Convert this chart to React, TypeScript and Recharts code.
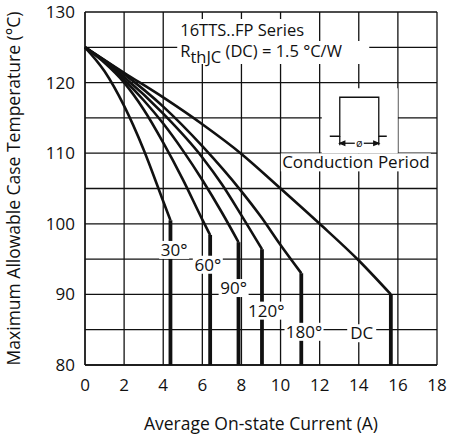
import React from "react";
import {
	LineChart,
	Line,
	XAxis,
	YAxis,
	CartesianGrid,
	ReferenceDot,
} from "recharts";

// axis ticks (grid every 5 °C, labels every 10 °C)
const xTicks = [0, 2, 4, 6, 8, 10, 12, 14, 16, 18];
const yTicks = [80, 85, 90, 95, 100, 105, 110, 115, 120, 125, 130];

// curves: current (A) vs case temperature (°C)
const currentDC = [0, 2, 4, 6, 8, 10, 12, 14, 15.64];
const tempDC = [125, 121.4, 117.9, 114.1, 109.9, 105, 100, 94.8, 90];

const current180 = [0, 2, 4, 6, 8, 9, 10, 11.06];
const temp180 = [125, 121.2, 116.6, 111.0, 104.6, 101.0, 97.0, 93.0];

const current120 = [0, 2, 4, 6, 7, 8, 9.05];
const temp120 = [125, 120.8, 115.6, 109.4, 105.6, 101.2, 96.4];

const current90 = [0, 1, 2, 3, 4, 5, 6, 7, 7.85];
const temp90 = [125, 123.0, 120.4, 117.5, 114.2, 110.4, 106.2, 101.6, 97.4];

const current60 = [0, 1, 2, 3, 4, 5, 6, 6.4];
const temp60 = [125, 122.8, 120.0, 116.2, 111.5, 106.3, 100.6, 98.4];

const current30 = [0, 1, 2, 3, 4, 4.37];
const temp30 = [125, 121.6, 116.7, 110.5, 103.2, 100.5];

const curves = [
	{ name: "DC", i: currentDC, t: tempDC },
	{ name: "180", i: current180, t: temp180 },
	{ name: "120", i: current120, t: temp120 },
	{ name: "90", i: current90, t: temp90 },
	{ name: "60", i: current60, t: temp60 },
	{ name: "30", i: current30, t: temp30 },
];

// curve labels: text, position (A, °C), box width
const curveLabels = [
	{ text: "30°", i: 4.56, t: 96.3, w: 30 },
	{ text: "60°", i: 6.28, t: 94.2, w: 30 },
	{ text: "90°", i: 7.6, t: 90.9, w: 30 },
	{ text: "120°", i: 9.27, t: 87.7, w: 39 },
	{ text: "180°", i: 11.2, t: 84.7, w: 39 },
	{ text: "DC", i: 14.15, t: 84.5, w: 29 },
];

const FONT = "'Open Sans', sans-serif";
const INK = "#111";

const toPoints = (xs: number[], ys: number[]) =>
	xs.map((x, k) => ({ i: x, t: ys[k] }));

const Tag = (props: any) => {
	const { cx, cy, text, w } = props;
	return (
		<g>
			<rect x={cx - w / 2} y={cy - 9} width={w} height={18} fill="#fff" />
			<text
				x={cx}
				y={cy + 6}
				textAnchor="middle"
				fontSize={17}
				fontFamily={FONT}
				fill={INK}
			>
				{text}
			</text>
		</g>
	);
};

const Title = (props: any) => {
	const { cx, cy } = props;
	return (
		<g fontFamily={FONT} fontSize={16.5} fill={INK}>
			<rect x={cx - 3} y={cy - 17} width={129} height={22} fill="#fff" />
			<rect x={cx - 3} y={cy + 5} width={192} height={23} fill="#fff" />
			<text x={cx} y={cy}>
				16TTS..FP Series
			</text>
			<text x={cx} y={cy + 21}>
				R<tspan dy={6}>thJC</tspan>
				<tspan dy={-6}> (DC) = 1.5 °C/W</tspan>
			</text>
		</g>
	);
};

const Pulse = (props: any) => {
	const { cx, cy } = props;
	const l = cx - 19;
	const r = cx + 20;
	return (
		<g stroke={INK} strokeWidth={1.3} fill="none">
			<rect x={cx - 37} y={cy - 48} width={76} height={65} fill="#fff" stroke="none" />
			<polyline points={`${cx - 29},${cy} ${l},${cy} ${l},${cy - 39} ${r},${cy - 39} ${r},${cy} ${cx + 28},${cy}`} />
			<line x1={l} y1={cy} x2={l} y2={cy + 9} />
			<line x1={r} y1={cy} x2={r} y2={cy + 9} />
			<line x1={l} y1={cy + 7} x2={cx - 4} y2={cy + 7} />
			<line x1={cx + 5} y1={cy + 7} x2={r} y2={cy + 7} />
			<polygon points={`${l},${cy + 7} ${l + 5},${cy + 5} ${l + 5},${cy + 9}`} fill={INK} />
			<polygon points={`${r},${cy + 7} ${r - 5},${cy + 5} ${r - 5},${cy + 9}`} fill={INK} />
			<text x={cx + 0.5} y={cy + 11} textAnchor="middle" fontSize={11} fontFamily={FONT} fill={INK} stroke="none">
				ø
			</text>
		</g>
	);
};

const App = () => {
	return (
		<div style={{ position: "absolute", left: 0, top: 0 }}>
			<LineChart
				width={451}
				height={438}
				margin={{ top: 12, right: 14, left: 0, bottom: 0 }}
				style={{ fontFamily: FONT }}
			>
				<CartesianGrid stroke={INK} strokeWidth={1.3} />
				<XAxis
					dataKey="i"
					type="number"
					domain={[0, 18]}
					ticks={xTicks}
					tickLine={false}
					axisLine={{ stroke: INK, strokeWidth: 1.3 }}
					tickMargin={8}
					height={73}
					tick={{ fill: INK, fontSize: 17 }}
					label={{
						value: "Average On-state Current (A)",
						position: "insideBottom",
						offset: 8,
						fill: INK,
						fontSize: 17.5,
					}}
				/>
				<YAxis
					dataKey="t"
					type="number"
					domain={[80, 130]}
					ticks={yTicks}
					tickFormatter={(v: number) => (v % 10 === 0 ? String(v) : "")}
					tickLine={false}
					axisLine={{ stroke: INK, strokeWidth: 1.3 }}
					tickMargin={4}
					width={85}
					tick={{ fill: INK, fontSize: 17 }}
					label={{
						value: "Maximum Allowable Case Temperature (°C)",
						angle: -90,
						position: "insideLeft",
						offset: 14,
						fill: INK,
						fontSize: 17.5,
						style: { textAnchor: "middle" },
					}}
				/>
				{curves.map((c) => (
					<Line
						key={c.name}
						data={toPoints(c.i, c.t)}
						dataKey="t"
						type="monotoneX"
						stroke={INK}
						strokeWidth={2.6}
						dot={false}
						activeDot={false}
						isAnimationActive={false}
					/>
				))}
				{curves.map((c) => {
					const k = c.i.length - 1;
					return (
						<Line
							key={c.name + "-drop"}
							data={toPoints([c.i[k], c.i[k]], [c.t[k], 80])}
							dataKey="t"
							type="linear"
							stroke={INK}
							strokeWidth={3.8}
							dot={false}
							activeDot={false}
							isAnimationActive={false}
						/>
					);
				})}
				<ReferenceDot
					x={4.87}
					y={126.6}
					r={1}
					shape={(p: any) => <Title {...p} />}
				/>
				<ReferenceDot
					x={14.0}
					y={112.4}
					r={1}
					shape={(p: any) => <Pulse {...p} />}
				/>
				<ReferenceDot
					x={13.85}
					y={108.7}
					r={1}
					shape={(p: any) => <Tag {...p} text="Conduction Period" w={150} />}
				/>
				{curveLabels.map((lb) => (
					<ReferenceDot
						key={lb.text}
						x={lb.i}
						y={lb.t}
						r={1}
						shape={(p: any) => <Tag {...p} text={lb.text} w={lb.w} />}
					/>
				))}
			</LineChart>
		</div>
	);
};

export default App;
